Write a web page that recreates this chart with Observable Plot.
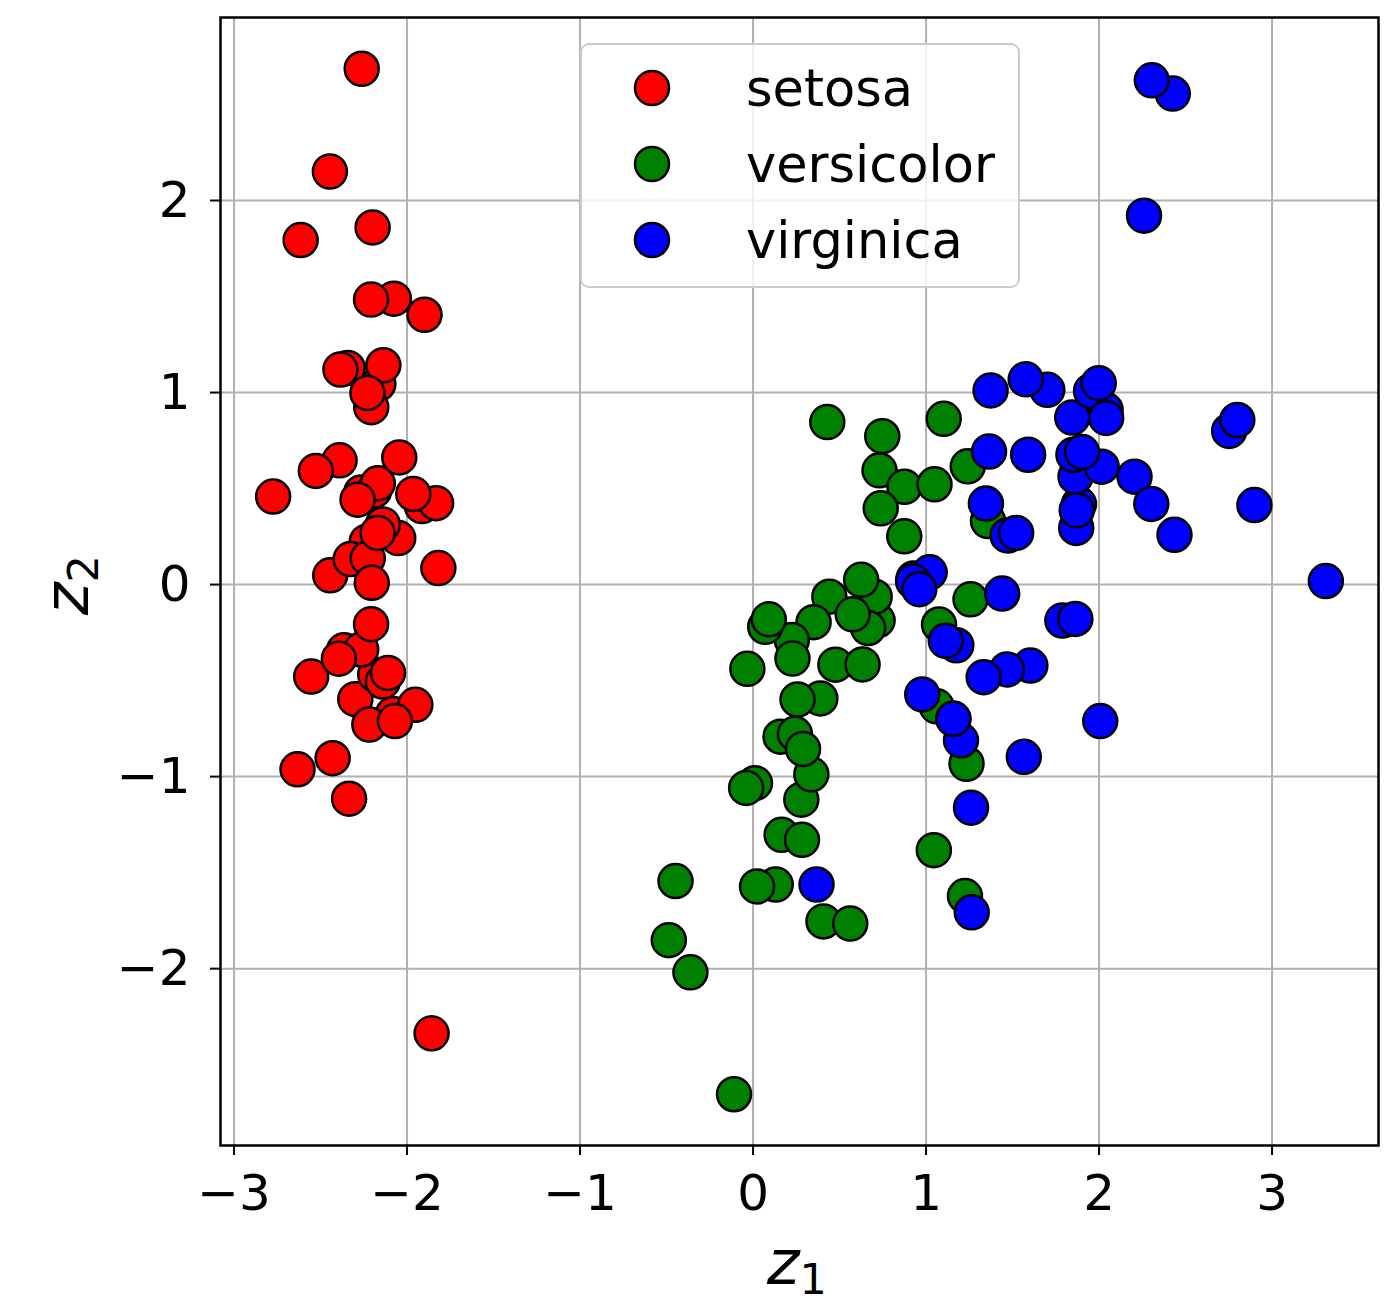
<!DOCTYPE html>
<html><head><meta charset="utf-8">
<script src="https://cdn.jsdelivr.net/npm/d3@7"></script>
<script src="https://cdn.jsdelivr.net/npm/@observablehq/plot@0.6"></script>
<style>body{margin:0;background:#fff;} svg{font-family:"DejaVu Sans";}</style>
</head><body><div id="chart"></div>
<script>
const species = ["setosa", "versicolor", "virginica"];
const speciesColors = ["red", "green", "blue"];
const xTicks = [-3, -2, -1, 0, 1, 2, 3];
const yTicks = [-2, -1, 0, 1, 2];

const setosaZ1 = [-2.265,-2.081,-2.364,-2.299,-2.390,-2.076,-2.444,-2.233,-2.335,-2.184,-2.166,-2.326,-2.218,-2.633,-2.199,-2.262,-2.208,-2.190,-1.899,-2.343,-1.914,-2.207,-2.774,-1.819,-2.227,-1.952,-2.051,-2.169,-2.140,-2.265,-2.140,-1.832,-2.615,-2.446,-2.110,-2.208,-2.045,-2.527,-2.430,-2.170,-2.286,-1.858,-2.554,-1.964,-2.137,-2.070,-2.385,-2.394,-2.229,-2.204];
const setosaZ2 = [0.480,-0.674,-0.342,-0.597,0.647,1.489,0.048,0.223,-1.115,-0.469,1.044,0.133,-0.729,-0.962,1.860,2.686,1.484,0.489,1.405,1.128,0.409,0.924,0.458,0.086,0.137,-0.626,0.242,0.527,0.313,-0.338,-0.505,0.424,1.794,2.151,-0.460,-0.206,0.662,0.592,-0.904,0.269,0.442,-2.337,-0.479,0.472,1.142,-0.711,1.120,-0.386,0.998,0.009];
const versicolorZ1 = [1.102,0.731,1.241,0.407,1.075,0.389,0.747,-0.487,0.928,0.011,-0.110,0.441,0.562,0.720,-0.033,0.875,0.350,0.159,1.225,0.165,0.738,0.476,1.234,0.633,0.703,0.874,1.257,1.358,0.665,-0.040,0.131,0.023,0.242,1.061,0.224,0.429,1.049,1.045,0.070,0.283,0.279,0.625,0.337,-0.362,0.289,0.091,0.228,0.576,-0.448,0.257];
const versicolorZ2 = [0.863,0.595,0.616,-1.754,-0.208,-0.593,0.773,-1.852,0.032,-1.034,-2.654,-0.063,-1.765,-0.186,-0.439,0.509,-0.196,-0.792,-1.622,-1.303,0.397,-0.417,-0.933,-0.416,-0.063,0.251,-0.077,0.331,-0.226,-1.059,-1.562,-1.572,-0.777,-0.634,-0.288,0.846,0.522,-1.383,-0.220,-1.329,-1.120,0.025,-0.988,-2.019,-0.856,-0.181,-0.385,-0.155,-1.544,-0.599];
const virginicaZ1 = [1.845,1.158,2.205,1.440,1.868,2.752,0.367,2.302,2.007,2.260,1.364,1.603,1.884,1.260,1.468,1.590,1.471,2.426,3.311,1.264,2.038,0.978,2.898,1.333,1.701,1.954,1.175,1.021,1.788,1.864,2.436,2.305,1.863,1.114,1.202,2.799,1.576,1.346,0.925,1.852,2.015,1.902,1.158,2.041,1.998,1.871,1.565,1.521,1.373,0.961];
const virginicaZ2 = [0.870,-0.699,0.562,-0.047,0.295,0.800,-1.562,0.420,-0.711,1.921,0.693,-0.422,0.419,-1.162,-0.442,0.676,0.256,2.557,0.018,-1.707,0.910,-0.572,0.414,-0.482,1.014,1.008,-0.316,0.064,-0.187,0.562,0.259,2.626,-0.179,-0.293,-0.811,0.857,1.069,0.422,0.017,0.676,0.614,0.690,-0.699,0.868,1.049,0.387,-0.897,0.269,1.011,-0.024];

const seriesZ1 = [setosaZ1, versicolorZ1, virginicaZ1];
const seriesZ2 = [setosaZ2, versicolorZ2, virginicaZ2];
const points = [];
species.forEach((s, i) => seriesZ1[i].forEach((v, j) => points.push({species: s, z1: v, z2: seriesZ2[i][j]})));

function pad(ext) { const d = (ext[1] - ext[0]) * 0.05; return [ext[0] - d, ext[1] + d]; }
const xDom = pad(d3.extent(points, d => d.z1));
const yDom = pad(d3.extent(points, d => d.z2));
const fmt = d3.format("d");

const W = 1397, H = 1303, mL = 220, mR = 19, mT = 17, mB = 158;
const chart = Plot.plot({
  width: W, height: H,
  marginLeft: mL, marginRight: mR, marginTop: mT, marginBottom: mB,
  style: {fontFamily: "DejaVu Sans", fontSize: "50px", background: "white", color: "black", overflow: "visible"},
  x: {domain: xDom},
  y: {domain: yDom},
  color: {domain: species, range: speciesColors},
  marks: [
    Plot.gridX(xTicks, {stroke: "#b0b0b0", strokeOpacity: 1, strokeWidth: 2}),
    Plot.gridY(yTicks, {stroke: "#b0b0b0", strokeOpacity: 1, strokeWidth: 2}),
    Plot.dot(points, {x: "z1", y: "z2", fill: "species", stroke: "black", strokeWidth: 2.5, r: 17}),
    Plot.frame({stroke: "black", strokeWidth: 2.5}),
    Plot.axisX(xTicks, {tickSize: 10, tickPadding: 19, label: null, fontSize: 50, strokeWidth: 2, tickFormat: fmt}),
    Plot.axisY(yTicks, {tickSize: 10, tickPadding: 20, label: null, fontSize: 50, strokeWidth: 2, tickFormat: fmt})
  ]
});
document.getElementById("chart").appendChild(chart);

const svg = d3.select(chart);
// Legend
const lg = svg.append("g").attr("text-anchor", "start");
lg.append("rect").attr("x", 581).attr("y", 44).attr("width", 438).attr("height", 243)
  .attr("rx", 8).attr("fill", "white").attr("fill-opacity", 0.8)
  .attr("stroke", "#cccccc").attr("stroke-width", 2);
species.forEach((s, i) => {
  const cy = 88 + i * 76;
  lg.append("circle").attr("cx", 652).attr("cy", cy).attr("r", 17)
    .attr("fill", speciesColors[i]).attr("stroke", "black").attr("stroke-width", 2.5);
  lg.append("text").attr("x", 746).attr("y", cy).attr("dy", "0.35em").attr("text-anchor", "start")
    .attr("font-size", 51).attr("font-family", "DejaVu Sans").attr("fill", "black").text(s);
});
// Axis labels
function axisLabel(x, y, sub, rot) {
  const t = svg.append("text").attr("transform", `translate(${x},${y}) rotate(${rot})`)
    .attr("text-anchor", "middle").attr("font-family", "DejaVu Sans").attr("fill", "black");
  t.append("tspan").attr("font-size", 62).attr("font-style", "italic").text("z");
  t.append("tspan").attr("font-size", 43).attr("dy", 10).text(sub);
}
axisLabel(797, 1284, "1", 0);
axisLabel(88, 585, "2", -90);
</script></body></html>
